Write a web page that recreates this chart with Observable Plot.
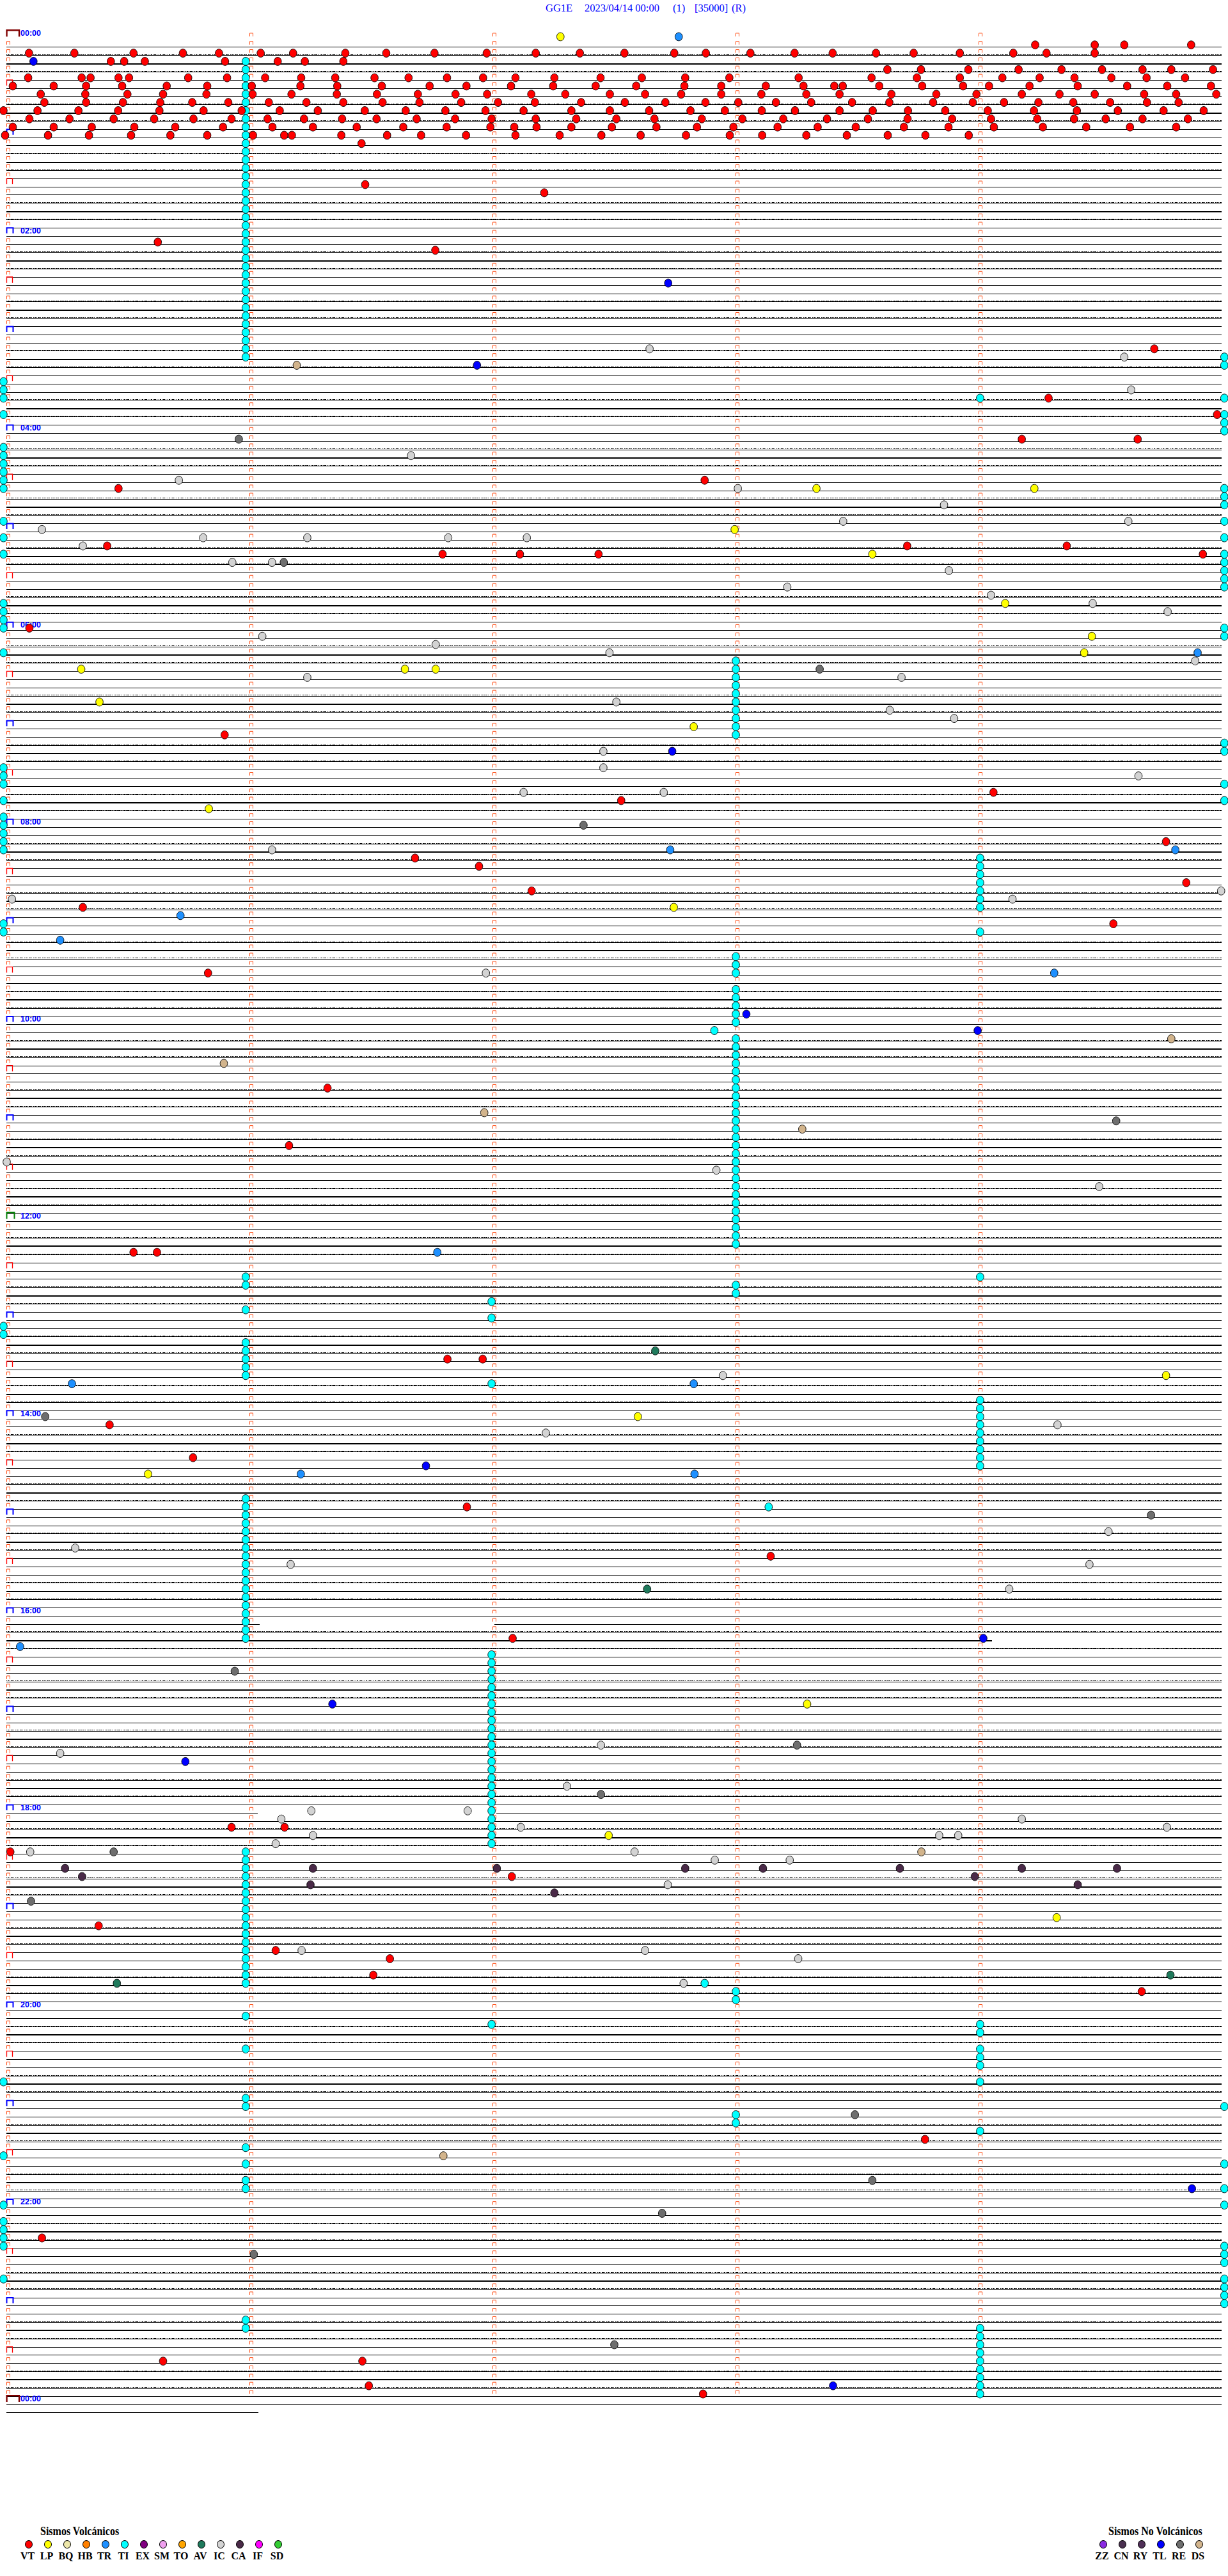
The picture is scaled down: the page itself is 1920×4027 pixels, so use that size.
<!DOCTYPE html>
<html>
<head>
<meta charset="utf-8">
<script src="https://cdn.jsdelivr.net/npm/d3@7"></script>
<script src="https://cdn.jsdelivr.net/npm/@observablehq/plot@0.6"></script>
<style>
  body { margin: 0; background: #fff; }
  #page { position: relative; width: 1920px; height: 4027px; overflow: hidden; background: #fff; }
  #page svg { position: absolute; left: 0; top: 0; }
  .ttl { position: absolute; top: 4px; font: 16.5px/17px "Liberation Serif", "Times New Roman", serif; color: #0000ff; white-space: pre; }
  .lg-title { position: absolute; font: bold 16px/16px "Liberation Serif", "Times New Roman", serif; color: #000; white-space: nowrap; transform-origin: left top; transform: scaleY(1.2); }
  .lg-dot { position: absolute; width: 12px; height: 13px; border: 1px solid #000; border-radius: 50%; box-sizing: border-box; }
  .lg-lab { position: absolute; width: 40px; text-align: center; font: bold 16px/16px "Liberation Serif", "Times New Roman", serif; color: #000; transform-origin: center top; transform: scaleY(1.1); }
</style>
</head>
<body>
<div id="page"></div>
<script>
// ---------------- DATA ----------------
const TITLE_PARTS = [["GG1E", 853], ["2023/04/14 00:00", 914], ["(1)", 1052], ["[35000]", 1086], ["(R)", 1144]];

const VOLCANIC_TYPES  = ["VT","LP","BQ","HB","TR","TI","EX","SM","TO","AV","IC","CA","IF","SD"];
const VOLCANIC_COLORS = ["#ff0000","#ffff00","#eee8aa","#ff8000","#1e90ff","#00ffff","#800080","#eea0ee","#ffa500","#1f7a5c","#d3d3d3","#4a2a48","#ff00ff","#33cc33"];
const OTHER_TYPES  = ["ZZ","CN","RY","TL","RE","DS"];
const OTHER_COLORS = ["#8a2be2","#4a3050","#4f2f57","#0000ff","#6e6e6e","#d2b48c"];

const HOUR_LABELS = ["00:00","02:00","04:00","06:00","08:00","10:00","12:00","14:00","16:00","18:00","20:00","22:00","00:00"];
const ROWS_PER_HOUR = 12;          // 5-minute rows
const ROW_SECONDS = 300;
const MINUTE_MARKS = [0, 60, 120, 180, 240];
const TRACE_ROWS = 289;

// rows with interrupted traces: [row, gapStart, gapEnd] and [row, traceEnd]
const TRACE_GAPS = [[193, 62.5, 120.5], [216, 62, 121]];
const TRACE_ENDS = [[195, 243.3], [289, 62.2]];

// events: [row, second, second, ...]
const VT = [
  [1, 253.9, 268.6, 275.9, 292.4],
  [2, 5.5, 16.7, 31.3, 43.5, 52.4, 62.7, 70.7, 83.6, 93.7, 105.6, 118.5, 130.6, 141.5, 152.5, 164.8, 172.6, 183.6, 194.5, 203.9, 214.6, 223.9, 235.3, 248.5, 256.7, 268.6],
  [3, 25.7, 29, 34.1, 53.9, 66.9, 73.6, 83.1],
  [4, 217.4, 225.7, 237.4, 249.8, 260.4, 270.4, 280.4, 287.5, 297.8],
  [5, 5.3, 18.5, 20.7, 27.6, 30.2, 44.8, 54.4, 63.8, 72.7, 81.1, 90.8, 99.2, 108.7, 117.6, 125.6, 135.2, 146.6, 156.8, 167.5, 178.4, 195.5, 213.5, 224.7, 235.3, 245.8, 255, 263.6, 272.7, 281.4, 290.9],
  [6, 1.5, 11.6, 19.6, 28.5, 39.5, 49.5, 60.5, 72.5, 81.6, 92.6, 104.4, 113.5, 124.5, 134.9, 145.4, 155.4, 167.3, 176.4, 187.4, 196.7, 204.3, 206.4, 215.4, 226, 236.1, 242.5, 252.5, 264.4, 276.6, 286.5, 297.3],
  [7, 8.4, 19.4, 29.8, 38.6, 49.3, 60.7, 70.3, 81.5, 91.4, 101.5, 110.8, 118.6, 129.5, 137.9, 148.9, 157.6, 166.5, 176.4, 186.3, 197.4, 205.6, 218.4, 229.5, 239.4, 250.6, 259.9, 268.6, 280.8, 288.7, 298.6],
  [8, 9.3, 19.6, 28.7, 37.9, 45.8, 54.7, 64.7, 74, 83.1, 92.8, 101.9, 112.2, 121.3, 130.4, 141.8, 152.6, 162.6, 172.5, 180.6, 189.9, 198.6, 208.7, 217.9, 228.7, 238.5, 246.2, 254.7, 263.3, 272.4, 281.5, 289.3],
  [9, -0.8, 7.6, 17.7, 27.5, 37.7, 48.6, 58, 67.4, 76.8, 88.4, 98.5, 108.3, 118.2, 127.6, 139.4, 148.9, 158.6, 168.8, 177.3, 186.4, 194.6, 205.6, 213.8, 222.5, 231.7, 242.2, 253.6, 264.2, 274.3, 285.6, 295.5],
  [10, 5.6, 15.5, 26.4, 36.4, 46.1, 55.5, 64.4, 73.4, 82.8, 91.3, 101.2, 110.7, 119.7, 130.6, 140.6, 150.5, 159.9, 171.6, 181.6, 191.7, 202.5, 212.6, 222.4, 233.4, 243, 254.4, 263.5, 271.3, 280.4, 291.6],
  [11, 1.5, 11.6, 21, 31.5, 41.6, 53.4, 65.6, 75.6, 86.4, 97.9, 108.6, 119.4, 125.3, 130.8, 139.4, 149.4, 160.4, 170.4, 179.4, 190.3, 200.2, 209.6, 221.5, 232.5, 243.7, 255.8, 266.5, 277.3, 288.7],
  [12, -0.4, 10.2, 20.3, 30.7, 40.4, 49.5, 60.8, 68.5, 70.4, 82.6, 93.9, 102.3, 113.4, 125.6, 136.5, 146.8, 156.5, 167.7, 178.5, 186.5, 197.4, 207.4, 217.5, 226.8, 237.5],
  [13, 87.6], [18, 88.5], [19, 132.7], [25, 37.3], [26, 105.8], [38, 283.3], [44, 257.2], [46, 298.8],
  [49, 250.6, 279.2], [54, 172.3], [55, 27.6], [62, 24.8, 222.3, 261.7], [63, 107.6, 126.7, 146.1, 295.3],
  [72, 5.6], [85, 53.8], [92, 243.6], [93, 151.7], [98, 286.2], [100, 100.8], [101, 116.6], [103, 291.2],
  [104, 129.6], [106, 18.8], [108, 273.2], [114, 49.7], [128, 79.2], [135, 69.7], [148, 31.3, 37.1],
  [161, 108.8, 117.5], [169, 25.4], [173, 46.0], [179, 113.6], [185, 188.6], [195, 124.9], [218, 55.5, 68.6],
  [221, 0.9], [224, 124.7], [230, 22.7], [233, 66.4], [234, 94.6], [236, 90.5], [238, 280.2], [256, 226.7],
  [268, 8.7], [283, 38.6, 87.8], [286, 89.4], [287, 171.9]
];
const LP = [
  [0, 136.7], [55, 199.9, 253.7], [60, 179.7], [63, 213.7], [69, 246.5], [73, 267.9], [75, 266],
  [77, 18.4, 98.3, 105.9], [81, 22.9], [84, 169.6], [94, 49.9], [106, 164.7], [163, 286.2], [168, 155.8],
  [175, 34.9], [203, 197.6], [219, 148.6], [229, 259.2]
];
const TR = [
  [0, 165.9], [75, 294], [99, 163.8, 288.5], [107, 42.9], [110, 13.2], [114, 258.6], [148, 106.3],
  [164, 16.1, 169.6], [175, 72.6, 169.8], [196, 3.3]
];
const AV = [[160, 160.1], [189, 158.1], [236, 287.3], [237, 27.2]];
const IC = [
  [38, 158.7], [39, 275.9], [43, 277.6], [51, 99.8], [54, 42.5], [55, 180.5], [57, 231.4], [59, 206.5, 276.9],
  [60, 8.7], [61, 48.5, 74.2, 109, 128.4], [62, 18.8], [64, 55.7, 65.5], [65, 232.6], [67, 192.7], [68, 243.0],
  [69, 268.1], [70, 286.6], [73, 63.1], [74, 105.9], [75, 148.8], [76, 293.4], [78, 74.2, 220.9], [81, 150.5],
  [82, 218], [83, 233.9], [87, 147.3], [89, 147.3], [90, 279.4], [92, 127.6, 162.2], [99, 65.5], [104, 299.8],
  [105, 1.3, 248.3], [114, 118.3], [137, 0], [138, 175.2], [140, 269.7], [163, 176.8], [169, 259.4], [170, 133.1],
  [182, 272], [184, 16.9], [186, 70.1, 267.3], [189, 247.5], [208, 146.7], [209, 13.2], [213, 138.3],
  [216, 75.2, 113.8], [217, 67.8, 250.6], [218, 126.9, 286.4], [219, 75.6, 230.2, 234.9], [220, 66.4],
  [221, 5.8, 155.0], [222, 174.8, 193.3], [225, 163.2], [233, 72.8, 157.6], [234, 195.4], [237, 167.1]
];
const CA = [
  [223, 14.4, 75.6, 121.0, 167.5, 186.7, 220.5, 250.6, 274.1], [224, 18.6, 239.0], [225, 75.0, 264.4], [226, 135.2]
];
const TL = [
  [3, 6.6], [30, 163.3], [40, 116.1], [87, 164.3], [119, 182.6], [121, 239.7], [174, 103.5], [195, 241.1],
  [203, 80.4], [210, 44.1], [262, 292.6], [286, 204.0]
];
const RE = [
  [49, 57.3], [64, 68.4], [77, 200.7], [96, 142.4], [132, 273.9], [168, 9.5], [180, 282.5], [199, 56.3],
  [208, 195.1], [214, 146.7], [221, 26.4], [227, 6.0], [253, 209.4], [261, 213.7], [265, 161.8], [270, 61.0], [281, 150.0]
];
const DS = [[40, 71.6], [122, 287.5], [125, 53.6], [131, 117.9], [133, 196.4], [221, 225.8], [258, 107.8]];
// TI (tremor) marks: [second, row, row, ...]
const TI = [
  [59, 3,4,5,6,7,8,9,10,11,12,13,14,15,16,17,18,19,20,21,22,23,24,25,26,27,28,29,30,31,32,33,34,35,36,37,38,39,
       151,152,155,159,160,161,162,163,178,179,180,181,182,183,184,185,186,187,188,189,190,191,192,193,194,195,
       221,222,223,224,225,226,227,228,229,230,231,232,233,234,235,236,237,241,245,251,252,257,259,261,262,278,279],
  [-0.8, 42,43,44,46,50,51,52,53,54,55,59,61,63,69,70,71,72,75,89,90,91,93,95,96,97,98,99,108,109,157,158,249,258,264,266,267,268,269,273],
  [300.6, 39,40,44,46,47,48,55,56,57,59,61,63,64,65,66,67,72,73,86,87,91,93,252,259,262,264,269,270,271,273,274,275,276],
  [180, 76,77,78,79,80,81,82,83,84,85,112,113,114,116,117,118,119,120,122,123,124,125,126,127,128,129,130,131,132,133,
        134,135,136,137,138,139,140,141,142,143,144,145,146,147,152,153,238,239,253,254],
  [240.3, 44,100,101,102,103,104,105,106,109,151,166,167,168,169,170,171,172,173,174,242,243,245,246,247,249,255,
          279,280,281,282,283,284,285,286,287],
  [119.7, 154,156,164,197,198,199,200,201,202,203,204,205,206,207,208,209,210,211,212,213,214,215,216,217,218,219,220,242],
  [174.7, 121], [188.1, 179], [172.3, 237]
];

// ---------------- BUILD TABLES ----------------
const colorOf = {};
VOLCANIC_TYPES.forEach((t, i) => colorOf[t] = VOLCANIC_COLORS[i]);
OTHER_TYPES.forEach((t, i) => colorOf[t] = OTHER_COLORS[i]);

const events = [];
function addRowEvents(list, type) {
  for (const [row, ...secs] of list) for (const s of secs) events.push({row, sec: s, type, color: colorOf[type]});
}
addRowEvents(VT, "VT"); addRowEvents(LP, "LP"); addRowEvents(TR, "TR"); addRowEvents(AV, "AV");
addRowEvents(IC, "IC"); addRowEvents(CA, "CA"); addRowEvents(TL, "TL"); addRowEvents(RE, "RE"); addRowEvents(DS, "DS");
for (const [s, ...rows] of TI) for (const row of rows) events.push({row, sec: s, type: "TI", color: colorOf.TI});
// draw TI first so other events sit on top
events.sort((a, b) => (a.type === "TI" ? 0 : 1) - (b.type === "TI" ? 0 : 1));

const segments = [];
for (let r = 1; r <= TRACE_ROWS; r++) {
  const w = r % 6 === 3 ? 2 : 1;
  const gap = TRACE_GAPS.find(g => g[0] === r);
  const end = TRACE_ENDS.find(e => e[0] === r);
  if (gap) { segments.push({row: r, s0: 0, s1: gap[1], w}); segments.push({row: r, s0: gap[2], s1: ROW_SECONDS, w}); }
  else segments.push({row: r, s0: 0, s1: end ? end[1] : ROW_SECONDS, w});
}
const noisy = segments.filter(d => d.row % 6 === 2 || d.row % 6 === 4);

const totalRows = 24 * ROWS_PER_HOUR; // 288
const minuteMarks = [];
for (let r = 0; r < totalRows; r++) for (const s of MINUTE_MARKS) {
  if (s === 0 && r % 6 === 0) continue;
  minuteMarks.push({row: r, sec: s});
}
const halfHour = d3.range(6, totalRows, 12).map(r => ({row: r, sec: 0}));
const hourBlue = d3.range(12, totalRows, 12).filter(r => r !== 144).map(r => ({row: r, sec: 0}));
const hourGreen = [{row: 144, sec: 0}];
const dayMarks = [{row: 0, sec: 0}, {row: totalRows, sec: 0}];
const hourText = HOUR_LABELS.map((label, i) => ({row: i * 24, sec: 0, label}));

// ---------------- SYMBOLS ----------------
const bracket = (w, h) => ({draw(ctx) { ctx.moveTo(-w/2, h/2); ctx.lineTo(-w/2, -h/2); ctx.lineTo(w/2, -h/2); ctx.lineTo(w/2, h/2); }});
const ellipse = {draw(ctx) {
  const rx = 5.8, ry = 6.4, k = 0.5523;
  ctx.moveTo(rx, 0);
  ctx.bezierCurveTo(rx, ry*k, rx*k, ry, 0, ry);
  ctx.bezierCurveTo(-rx*k, ry, -rx, ry*k, -rx, 0);
  ctx.bezierCurveTo(-rx, -ry*k, -rx*k, -ry, 0, -ry);
  ctx.bezierCurveTo(rx*k, -ry, rx, -ry*k, rx, 0);
  ctx.closePath();
}};

// ---------------- PLOT ----------------
const chart = Plot.plot({
  width: 1920,
  height: 3790,
  x: {domain: [0, ROW_SECONDS], range: [10, 1910], axis: null},
  y: {domain: [0, TRACE_ROWS], range: [60.5, 60.5 + 12.84 * TRACE_ROWS], axis: null},
  color: {type: "identity"},
  style: {background: "white", overflow: "visible"},
  marks: [
    Plot.ruleY(segments, {y: "row", x1: "s0", x2: "s1", stroke: "black", strokeWidth: d => d.w, shapeRendering: "crispEdges"}),
    Plot.ruleY(noisy, {y: "row", x1: "s0", x2: "s1", stroke: "black", strokeWidth: 1, dy: -1.2, shapeRendering: "crispEdges",
      strokeDasharray: "1,1,2,1,1,1,3,1,1,2"}),
    Plot.dot(minuteMarks, {x: "sec", y: "row", symbol: bracket(5, 5), fill: "none", stroke: "#ff4a10", strokeWidth: 1, dx: 2.5, dy: -6.6}),
    Plot.dot(halfHour, {x: "sec", y: "row", symbol: bracket(9, 9), fill: "none", stroke: "#ff0000", strokeWidth: 1.3, dx: 4.5, dy: -8.7}),
    Plot.dot(hourBlue, {x: "sec", y: "row", symbol: bracket(10, 8.5), fill: "none", stroke: "#0000ff", strokeWidth: 2, dx: 5, dy: -8.6}),
    Plot.dot(hourGreen, {x: "sec", y: "row", symbol: bracket(12, 10), fill: "none", stroke: "#008000", strokeWidth: 2, dx: 6, dy: -9.5}),
    Plot.dot(dayMarks, {x: "sec", y: "row", symbol: bracket(19.5, 10), fill: "none", stroke: "#800000", strokeWidth: 2.4, dx: 9.8, dy: -8.8}),
    Plot.text(hourText, {x: "sec", y: "row", text: "label", dx: 21.5, dy: -8.6, textAnchor: "start", lineAnchor: "middle",
      fill: "#0000ff", fontSize: 12.5, fontWeight: "bold", fontFamily: "Liberation Sans, Arial, sans-serif"}),
    Plot.dot(events, {x: "sec", y: "row", symbol: ellipse, fill: "color", stroke: "black", strokeWidth: 0.9, dy: -3.6})
  ]
});
const page = document.getElementById("page");
page.appendChild(chart);

// ---------------- TITLE ----------------
for (const [txt, left] of TITLE_PARTS) {
  const d = document.createElement("div");
  d.className = "ttl"; d.textContent = txt; d.style.left = left + "px";
  page.appendChild(d);
}

// ---------------- LEGEND ----------------
function legend(title, titleLeft, types, colors, firstX) {
  const t = document.createElement("div");
  t.className = "lg-title"; t.textContent = title;
  t.style.left = titleLeft + "px"; t.style.top = "3947px";
  page.appendChild(t);
  types.forEach((type, i) => {
    const cx = firstX + 30 * i;
    const dot = document.createElement("div");
    dot.className = "lg-dot"; dot.style.background = colors[i];
    dot.style.left = (cx - 6) + "px"; dot.style.top = "3970.5px";
    page.appendChild(dot);
    const lab = document.createElement("div");
    lab.className = "lg-lab"; lab.textContent = type;
    lab.style.left = (cx - 22) + "px"; lab.style.top = "3987px";
    page.appendChild(lab);
  });
}
legend("Sismos Volcánicos", 63, VOLCANIC_TYPES, VOLCANIC_COLORS, 45);
legend("Sismos No Volcánicos", 1733, OTHER_TYPES, OTHER_COLORS, 1725);
</script>
</body>
</html>
